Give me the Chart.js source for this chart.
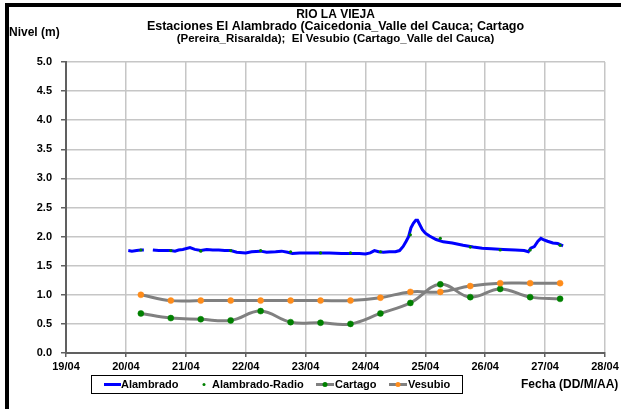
<!DOCTYPE html>
<html>
<head>
<meta charset="utf-8">
<script src="https://cdn.jsdelivr.net/npm/chart.js@4.4.1/dist/chart.umd.min.js"></script>
<style>
html,body{margin:0;padding:0;background:#fff;overflow:hidden;width:621px;height:409px;}
canvas{display:block;}
</style>
</head>
<body>
<canvas id="c" width="660" height="409"></canvas>
<script>
// ---- data (x = day of April, decimal) ----
const xTickLabels = ["19/04","20/04","21/04","22/04","23/04","24/04","25/04","26/04","27/04","28/04"];
const yTickLabels = ["0.0","0.5","1.0","1.5","2.0","2.5","3.0","3.5","4.0","4.5","5.0"];

const alambradoX = [20.04,20.10,20.18,20.25,20.30,20.37,20.45,20.55,20.65,20.75,20.82,20.88,20.95,21.07,21.15,21.25,21.35,21.45,21.55,21.65,21.75,21.85,22.00,22.10,22.25,22.35,22.50,22.60,22.70,22.78,22.90,23.00,23.20,23.40,23.60,23.75,23.90,24.00,24.08,24.15,24.22,24.30,24.40,24.50,24.57,24.63,24.68,24.72,24.76,24.80,24.84,24.87,24.91,24.95,25.00,25.07,25.18,25.30,25.45,25.63,25.80,25.95,26.10,26.30,26.50,26.65,26.72,26.76,26.82,26.88,26.93,26.97,27.04,27.13,27.21,27.30];
const alambradoY = [1.76,1.75,1.76,1.77,1.77,null,1.77,1.76,1.76,1.76,1.75,1.77,1.78,1.81,1.78,1.76,1.78,1.77,1.77,1.76,1.76,1.73,1.72,1.74,1.75,1.73,1.74,1.75,1.73,1.71,1.72,1.72,1.72,1.72,1.71,1.71,1.71,1.70,1.72,1.76,1.74,1.73,1.74,1.74,1.76,1.83,1.92,2.00,2.15,2.23,2.28,2.28,2.20,2.12,2.06,2.01,1.95,1.91,1.89,1.85,1.82,1.80,1.79,1.78,1.77,1.76,1.74,1.80,1.83,1.92,1.97,1.95,1.92,1.89,1.88,1.84];

const sampleX = [20.25,20.75,21.25,21.75,22.25,22.75,23.25,23.75,24.25,24.75,25.25,25.75,26.25,26.75,27.25];
const radioY   = [1.77,1.76,1.75,1.76,1.76,1.74,1.72,1.72,1.74,2.03,1.97,1.82,1.77,1.77,1.85];
const cartagoY = [0.68,0.60,0.58,0.56,0.72,0.53,0.52,0.50,0.68,0.86,1.18,0.96,1.10,0.96,0.93];
const vesubioY = [1.00,0.90,0.90,0.90,0.90,0.90,0.90,0.90,0.95,1.05,1.05,1.15,1.20,1.20,1.20];

const titleLines = ["RIO LA VIEJA","Estaciones El Alambrado (Caicedonia_Valle del Cauca; Cartago","(Pereira_Risaralda);  El Vesubio (Cartago_Valle del Cauca)"];
const yTitle = "Nivel (m)";
const xTitle = "Fecha (DD/M/AA)";
const legendNames = ["Alambrado","Alambrado-Radio","Cartago","Vesubio"];

const pts = (xs, ys) => xs.map((x,i)=>({x:x,y:ys[i]}));
const FONT = "'Liberation Sans', Arial, sans-serif";

const decor = {
  id:'decor',
  afterDraw(chart){
    const ctx = chart.ctx;
    const ca = chart.chartArea;
    const cx = (ca.left + ca.right)/2;
    ctx.save();
    // black frame
    ctx.fillStyle = '#000';
    ctx.fillRect(5,3,4,420);
    ctx.fillRect(5,3,700,4);
    // title
    ctx.fillStyle = '#000';
    ctx.textAlign = 'center';
    ctx.textBaseline = 'middle';
    ctx.font = "bold 12px " + FONT;
    ctx.fillText(titleLines[0], cx, 15);
    ctx.font = "bold 12.5px " + FONT;
    ctx.fillText(titleLines[1], cx, 27);
    ctx.font = "bold 11.5px " + FONT;
    ctx.fillText(titleLines[2], cx, 39);
    ctx.textAlign = 'left';
    ctx.font = "bold 12px " + FONT;
    ctx.fillText(yTitle, 9, 33);
    // legend
    const lx=91, ly=375, lw=371, lh=18;
    ctx.strokeStyle = '#000';
    ctx.lineWidth = 1;
    ctx.strokeRect(lx+0.5, ly+0.5, lw, lh);
    const cy = ly + lh/2 + 0.5;
    ctx.font = "bold 11px " + FONT;
    ctx.textBaseline = 'middle';
    // Alambrado
    ctx.strokeStyle = '#0000ff'; ctx.lineWidth = 3;
    ctx.beginPath(); ctx.moveTo(104,cy); ctx.lineTo(121,cy); ctx.stroke();
    ctx.fillStyle = '#000'; ctx.fillText(legendNames[0], 121, cy);
    // Radio
    ctx.fillStyle = '#008000';
    ctx.beginPath(); ctx.arc(204,cy,1.5,0,Math.PI*2); ctx.fill();
    ctx.fillStyle = '#000'; ctx.fillText(legendNames[1], 212, cy);
    // Cartago
    ctx.strokeStyle = '#808080'; ctx.lineWidth = 3;
    ctx.beginPath(); ctx.moveTo(316,cy); ctx.lineTo(334,cy); ctx.stroke();
    ctx.fillStyle = '#008000';
    ctx.beginPath(); ctx.arc(325,cy,2.5,0,Math.PI*2); ctx.fill();
    ctx.fillStyle = '#000'; ctx.fillText(legendNames[2], 335, cy);
    // Vesubio
    ctx.strokeStyle = '#808080'; ctx.lineWidth = 3;
    ctx.beginPath(); ctx.moveTo(389,cy); ctx.lineTo(407,cy); ctx.stroke();
    ctx.fillStyle = '#ff8c1a';
    ctx.beginPath(); ctx.arc(398,cy,2.5,0,Math.PI*2); ctx.fill();
    ctx.fillStyle = '#000'; ctx.fillText(legendNames[3], 408, cy);
    // x title
    ctx.font = "bold 12px " + FONT;
    ctx.fillText(xTitle, 521, cy);
    ctx.restore();
  }
};

new Chart(document.getElementById('c'), {
  type: 'line',
  data: {
    datasets: [
      { label: legendNames[0], data: pts(alambradoX, alambradoY), borderColor:'#0000ff', borderWidth:3, pointRadius:0, tension:0, spanGaps:false, order:3 },
      { label: legendNames[1], data: pts(sampleX, radioY), showLine:false, pointRadius:1.6, pointBackgroundColor:'#008000', pointBorderWidth:0, borderColor:'#008000', order:0 },
      { label: legendNames[2], data: pts(sampleX, cartagoY), borderColor:'#808080', borderWidth:3, tension:0.4, pointRadius:3, pointBackgroundColor:'#008000', pointBorderColor:'#008000', pointBorderWidth:0.5, order:2 },
      { label: legendNames[3], data: pts(sampleX, vesubioY), borderColor:'#808080', borderWidth:3, tension:0.4, pointRadius:3, pointBackgroundColor:'#ff8c1a', pointBorderColor:'#ff8c1a', pointBorderWidth:0.5, order:1 }
    ]
  },
  options: {
    responsive:false,
    animation:false,
    layout:{ padding:{ left:0, right:55, top:62, bottom:36 } },
    plugins:{ legend:{display:false}, title:{display:false}, tooltip:{enabled:false} },
    scales:{
      x:{
        type:'linear', min:19, max:28,
        afterFit(s){ s.height = 20; },
        afterBuildTicks(s){ s.ticks = xTickLabels.map((t,i)=>({value:19+i})); },
        ticks:{ callback:(v,i)=>xTickLabels[i], color:'#000', font:{family:FONT, size:11, weight:'bold'}, padding:3, maxRotation:0, autoSkip:false },
        grid:{ color:'#c6c6c6', lineWidth:1.5, tickColor:'#606060', tickLength:4, drawTicks:true },
        border:{ color:'#606060', width:2 }
      },
      y:{
        min:0, max:5,
        afterFit(s){ s.width = 66; },
        afterBuildTicks(s){ s.ticks = yTickLabels.map((t,i)=>({value:i*0.5})); },
        ticks:{ callback:(v,i)=>yTickLabels[i], color:'#000', font:{family:FONT, size:11, weight:'bold'}, padding:9, autoSkip:false },
        grid:{ color:'#c6c6c6', lineWidth:1.5, tickColor:'#606060', tickLength:5 },
        border:{ color:'#606060', width:2 }
      }
    }
  },
  plugins:[decor]
});
</script>
</body>
</html>
